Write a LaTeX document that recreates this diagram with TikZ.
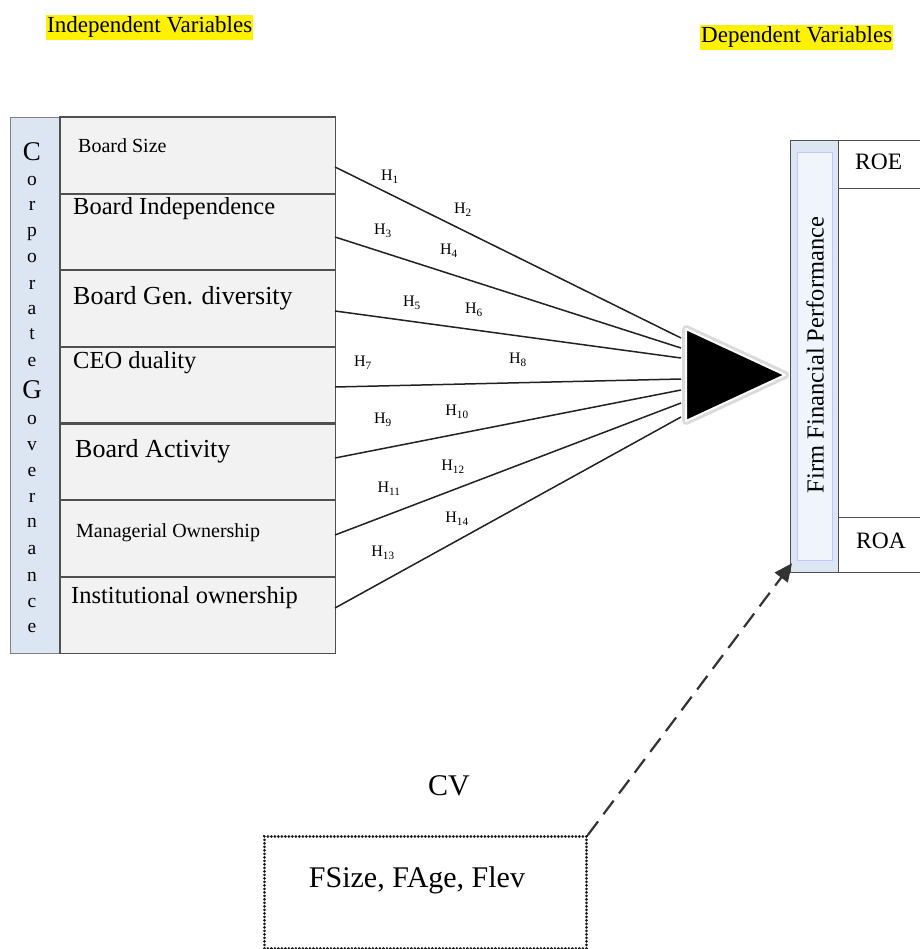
\documentclass[tikz,border=0pt]{standalone}
\usepackage{fontspec}
\setmainfont{Liberation Serif}
\usetikzlibrary{arrows.meta,calc}
\definecolor{cgblue}{HTML}{DCE6F2}
\definecolor{cginner}{HTML}{F0F5FB}
\definecolor{rowgray}{HTML}{F2F2F2}
\definecolor{edge}{HTML}{505050}
\definecolor{linec}{HTML}{222222}
\newcommand\myfs[1]{\fontsize{#1}{#1}\selectfont}
\begin{document}
\begin{tikzpicture}[x=1pt,y=-1pt,
  rowbox/.style={fill=rowgray, minimum width=275pt, minimum height=76.57pt, anchor=north west, inner sep=0pt},
  rowedge/.style={draw=edge, line width=1.8pt},
  lbl/.style={anchor=base west, inner sep=0pt},
  hyp/.style={font=\myfs{16}, inner sep=0pt},
  link/.style={draw=linec, line width=1.5pt},
  letter/.style={anchor=base, inner sep=0pt, font=\myfs{19.5}},
  head/.style={fill=yellow, anchor=base west, inner xsep=1pt, inner ysep=2.5pt, font=\myfs{23}},
]
\useasboundingbox (0,0) rectangle (919,949);
\fill[white] (0,0) rectangle (919,949);

% headings
\node[head] (indep) at (46,33) {Independent Variables};
\node[head] (dep) at (700,43) {Dependent Variables};

% left column
\node[draw=gray, line width=1.2pt, fill=cgblue, minimum width=50pt, minimum height=536pt, anchor=north west, inner sep=0pt] (cg) at (10,117) {};
\foreach \ch/\yy [count=\i] in {\myfs{27}C/160.5, o/186, r/211, p/237, o/263, r/289, a/314, t/339, e/366, \myfs{27}G/398.5, o/424, v/450, e/476, r/502, n/527, a/554, n/581, c/607, e/632}
  \node[letter] (cg\i) at (32,\yy) {\ch};

% rows
\node[rowbox] (r1) at (60,117) {};
\node[rowbox] (r2) at (60,193.57) {};
\node[rowbox] (r3) at (60,270.14) {};
\node[rowbox] (r4) at (60,346.71) {};
\node[rowbox] (r5) at (60,423.29) {};
\node[rowbox] (r6) at (60,499.86) {};
\node[rowbox] (r7) at (60,576.43) {};
\foreach \i in {1,...,7} \draw[rowedge] (r\i.north west) rectangle (r\i.south east);

\node[lbl, font=\myfs{20}] (t1) at (78,153) {Board Size};
\node[lbl, font=\myfs{24.5}] (t2) at (73,215) {Board Independence};
\node[lbl, font=\myfs{26}] (t3) at (73,304) {Board Gen. diversity};
\node[lbl, font=\myfs{24.5}] (t4) at (73,368) {CEO duality};
\node[lbl, font=\myfs{26}] (t5) at (75,457) {Board Activity};
\node[lbl, font=\myfs{20}] (t6) at (76,537) {Managerial Ownership};
\node[lbl, font=\myfs{24.5}] (t7) at (71,603) {Institutional ownership};

% connector start and end points
\coordinate (s1) at (335,167);
\coordinate (s2) at (335,237);
\coordinate (s3) at (335,311);
\coordinate (s4) at (335,387);
\coordinate (s5) at (335,458);
\coordinate (s6) at (335,535);
\coordinate (s7) at (335,608);
\coordinate (e1) at (681,338);
\coordinate (e2) at (681,348);
\coordinate (e3) at (681,358);
\coordinate (e4) at (681,379);
\coordinate (e5) at (681,390);
\coordinate (e6) at (681,403);
\coordinate (e7) at (681,417);
\foreach \i in {1,...,7} \draw[link] (s\i) -- (e\i);

% hypothesis labels
\node[hyp] (h1) at (390,177) {H\textsubscript{1}};
\node[hyp] (h2) at (463,210) {H\textsubscript{2}};
\node[hyp] (h3) at (383,231) {H\textsubscript{3}};
\node[hyp] (h4) at (449,251) {H\textsubscript{4}};
\node[hyp] (h5) at (412,303) {H\textsubscript{5}};
\node[hyp] (h6) at (474,310) {H\textsubscript{6}};
\node[hyp] (h7) at (363,363) {H\textsubscript{7}};
\node[hyp] (h8) at (518,360) {H\textsubscript{8}};
\node[hyp] (h9) at (383,420) {H\textsubscript{9}};
\node[hyp] (h10) at (457,412) {H\textsubscript{10}};
\node[hyp] (h11) at (389,489) {H\textsubscript{11}};
\node[hyp] (h12) at (453,467) {H\textsubscript{12}};
\node[hyp] (h13) at (383,553) {H\textsubscript{13}};
\node[hyp] (h14) at (457,519) {H\textsubscript{14}};

% big triangle
\coordinate (ta) at (686,329);
\coordinate (tb) at (686,421);
\coordinate (tc) at (785,375);
\draw[line width=8pt, gray!28, line join=round] (ta) -- (tc) -- (tb) -- cycle;
\filldraw[fill=black, draw=white, line width=2pt, line join=round] (ta) -- (tc) -- (tb) -- cycle;

% right column
\node[draw=edge, line width=1.2pt, fill=cgblue, minimum width=48pt, minimum height=432pt, anchor=north west, inner sep=0pt] (ffp) at (790,140) {};
\node[fill=cginner, draw=cgblue!70!blue!60, line width=0.6pt, minimum width=35pt, minimum height=408pt, inner sep=0pt] (ffpin) at (ffp.center) {};
\node[rotate=90, font=\myfs{24.5}, inner sep=0pt] (ffpt) at (815,355) {Firm Financial Performance};

\node[draw=edge, line width=1.2pt, minimum width=95pt, minimum height=48pt, anchor=north west, inner sep=0pt] (roe) at (838,140) {};
\node[draw=edge, line width=1.2pt, minimum width=95pt, minimum height=55pt, anchor=north west, inner sep=0pt] (roa) at (838,517) {};
\node[lbl, font=\myfs{23.5}] (roet) at (855,170) {ROE};
\node[lbl, font=\myfs{23.5}] (roat) at (856,548) {ROA};

% control variables
\node[font=\myfs{30}, anchor=base, inner sep=0pt] (cv) at (449,795) {CV};
\node[draw=black!90, line width=2.8pt, line cap=round, dash pattern=on 0.1pt off 3.4pt, minimum width=322pt, minimum height=112pt, anchor=north west, inner sep=0pt] (cvbox) at (263,835) {};
\node[font=\myfs{30}, anchor=base, inner sep=0pt] (cvt) at (417,887) {FSize, FAge, Flev};

\draw[draw=black!80, line width=2.2pt, dash pattern=on 17pt off 9pt, -{Triangle[length=18pt,width=16pt]}] (cvbox.north east) -- ($(ffp.south west)+(2,-10)$);
\end{tikzpicture}
\end{document}
